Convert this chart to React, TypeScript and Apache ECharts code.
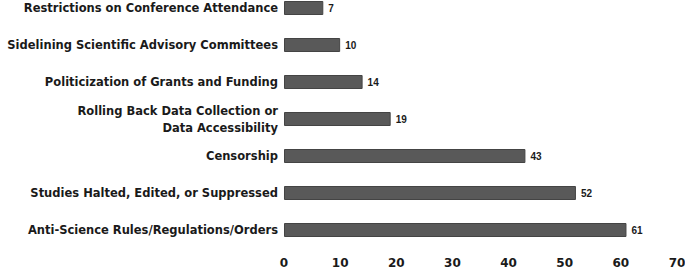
import React, { useEffect, useRef } from "react";
import * as echarts from "echarts";

const categories = [
  "Restrictions on Conference Attendance",
  "Sidelining Scientific Advisory Committees",
  "Politicization of Grants and Funding",
  "Rolling Back Data Collection or\nData Accessibility",
  "Censorship",
  "Studies Halted, Edited, or Suppressed",
  "Anti-Science Rules/Regulations/Orders",
];
const values = [7, 10, 14, 19, 43, 52, 61];

export default function App() {
  const ref = useRef<HTMLDivElement>(null);
  useEffect(() => {
    const chart = echarts.init(ref.current!, null, { renderer: "svg" });
    chart.setOption({
      animation: false,
      grid: { left: 284, right: 8, top: -10.5, bottom: 21.5, outerBoundsMode: "none", containLabel: false },
      xAxis: {
        type: "value",
        min: 0,
        max: 70,
        interval: 10,
        axisLine: { show: false },
        axisTick: { show: false },
        splitLine: { show: false },
        axisLabel: {
          margin: 8,
          color: "#1a1a1a",
          fontWeight: "bold",
          fontSize: 12,
          fontFamily: "DejaVu Sans",
        },
      },
      yAxis: {
        type: "category",
        inverse: true,
        data: categories,
        axisLine: { show: false },
        axisTick: { show: false },
        axisLabel: {
          margin: 6,
          color: "#1a1a1a",
          fontWeight: "bold",
          fontSize: 11.5,
          lineHeight: 17,
          fontFamily: "DejaVu Sans",
        },
      },
      series: [
        {
          type: "bar",
          data: values,
          barWidth: 14,
          itemStyle: { color: "#595959", borderColor: "#444444", borderWidth: 1 },
          label: {
            show: true,
            position: "right",
            distance: 5,
            color: "#1a1a1a",
            fontWeight: "bold",
            fontSize: 10,
            fontFamily: "Liberation Sans",
          },
        },
      ],
    });
    return () => chart.dispose();
  }, []);
  return (
    <div
      ref={ref}
      style={{ position: "absolute", left: 0, top: 0, width: 685, height: 270 }}
    />
  );
}
